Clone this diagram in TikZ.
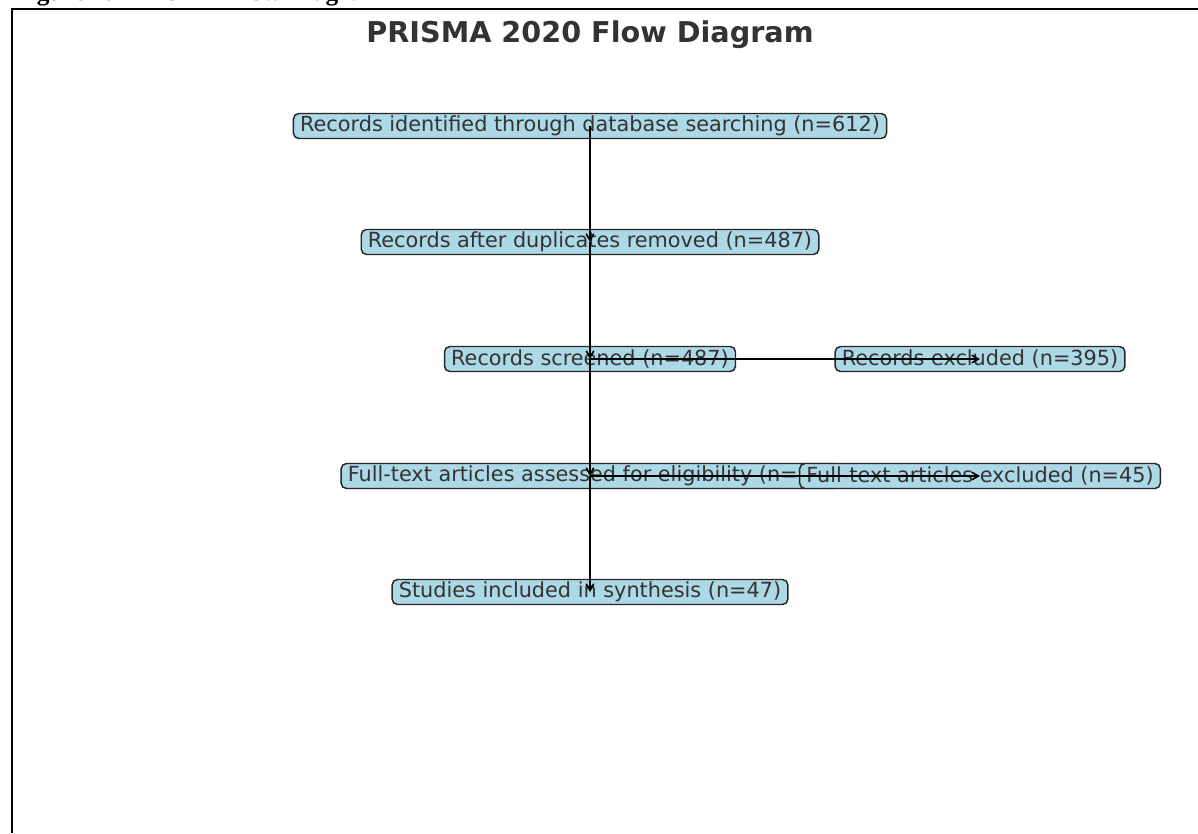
\documentclass[tikz,border=0pt]{standalone}
\usepackage{fontspec}
\setmainfont{DejaVu Sans}
\newfontfamily\capfont{Liberation Serif}
\usetikzlibrary{arrows}

\definecolor{boxblue}{HTML}{ADD8E6}
\definecolor{textgray}{HTML}{333333}

\tikzset{
  stagebox/.style={draw=black!85, fill=boxblue, rounded corners=4pt, line width=1.1pt,
    inner xsep=5pt, inner ysep=0pt, minimum height=18.75pt, text=textgray,
    font=\fontsize{15.6}{15.6}\selectfont},
  flowarrow/.style={->, >=angle 60, line width=1.2pt, black}
}

\begin{document}
\begin{tikzpicture}[x=0.75pt,y=-0.75pt]
  % page size, same as the reference
  \useasboundingbox (0,0) rectangle (1198,833);

  % caption above the frame, mostly cut off
  \node[anchor=base west, inner sep=0pt, font=\capfont\bfseries\fontsize{19}{19}\selectfont] (caption) at (14,0.5) {Figure 1: PRISMA Flow Diagram};

  % frame, only left and top edges show
  \draw[line width=1.5pt] (12,833) -- (12,9) -- (1198,9);

  % title
  \node[font=\bfseries\fontsize{21.5}{21.5}\selectfont, text=textgray] (title) at (590,35) {PRISMA 2020 Flow Diagram};

  % main column
  \node[stagebox] (ident) at (590,126) {Records identified through database searching (n=612)};
  \node[stagebox] (dup) at (590,242) {Records after duplicates removed (n=487)};
  \node[stagebox] (screen) at (590,359) {Records screened (n=487)};
  \node[stagebox] (full) at (590,476) {Full-text articles assessed for eligibility (n=92)};
  \node[stagebox] (incl) at (590,592) {Studies included in synthesis (n=47)};

  % exclusions on the right
  \node[stagebox] (excl) at (980,359) {Records excluded (n=395)};
  \node[stagebox] (fullexcl) at (980,476) {Full-text articles excluded (n=45)};

  % arrows, center to center
  \draw[flowarrow] (ident.center) -- (dup.center);
  \draw[flowarrow] (dup.center) -- (screen.center);
  \draw[flowarrow] (screen.center) -- (full.center);
  \draw[flowarrow] (full.center) -- (incl.center);
  \draw[flowarrow] (screen.center) -- (excl.center);
  \draw[flowarrow] (full.center) -- (fullexcl.center);
\end{tikzpicture}
\end{document}
